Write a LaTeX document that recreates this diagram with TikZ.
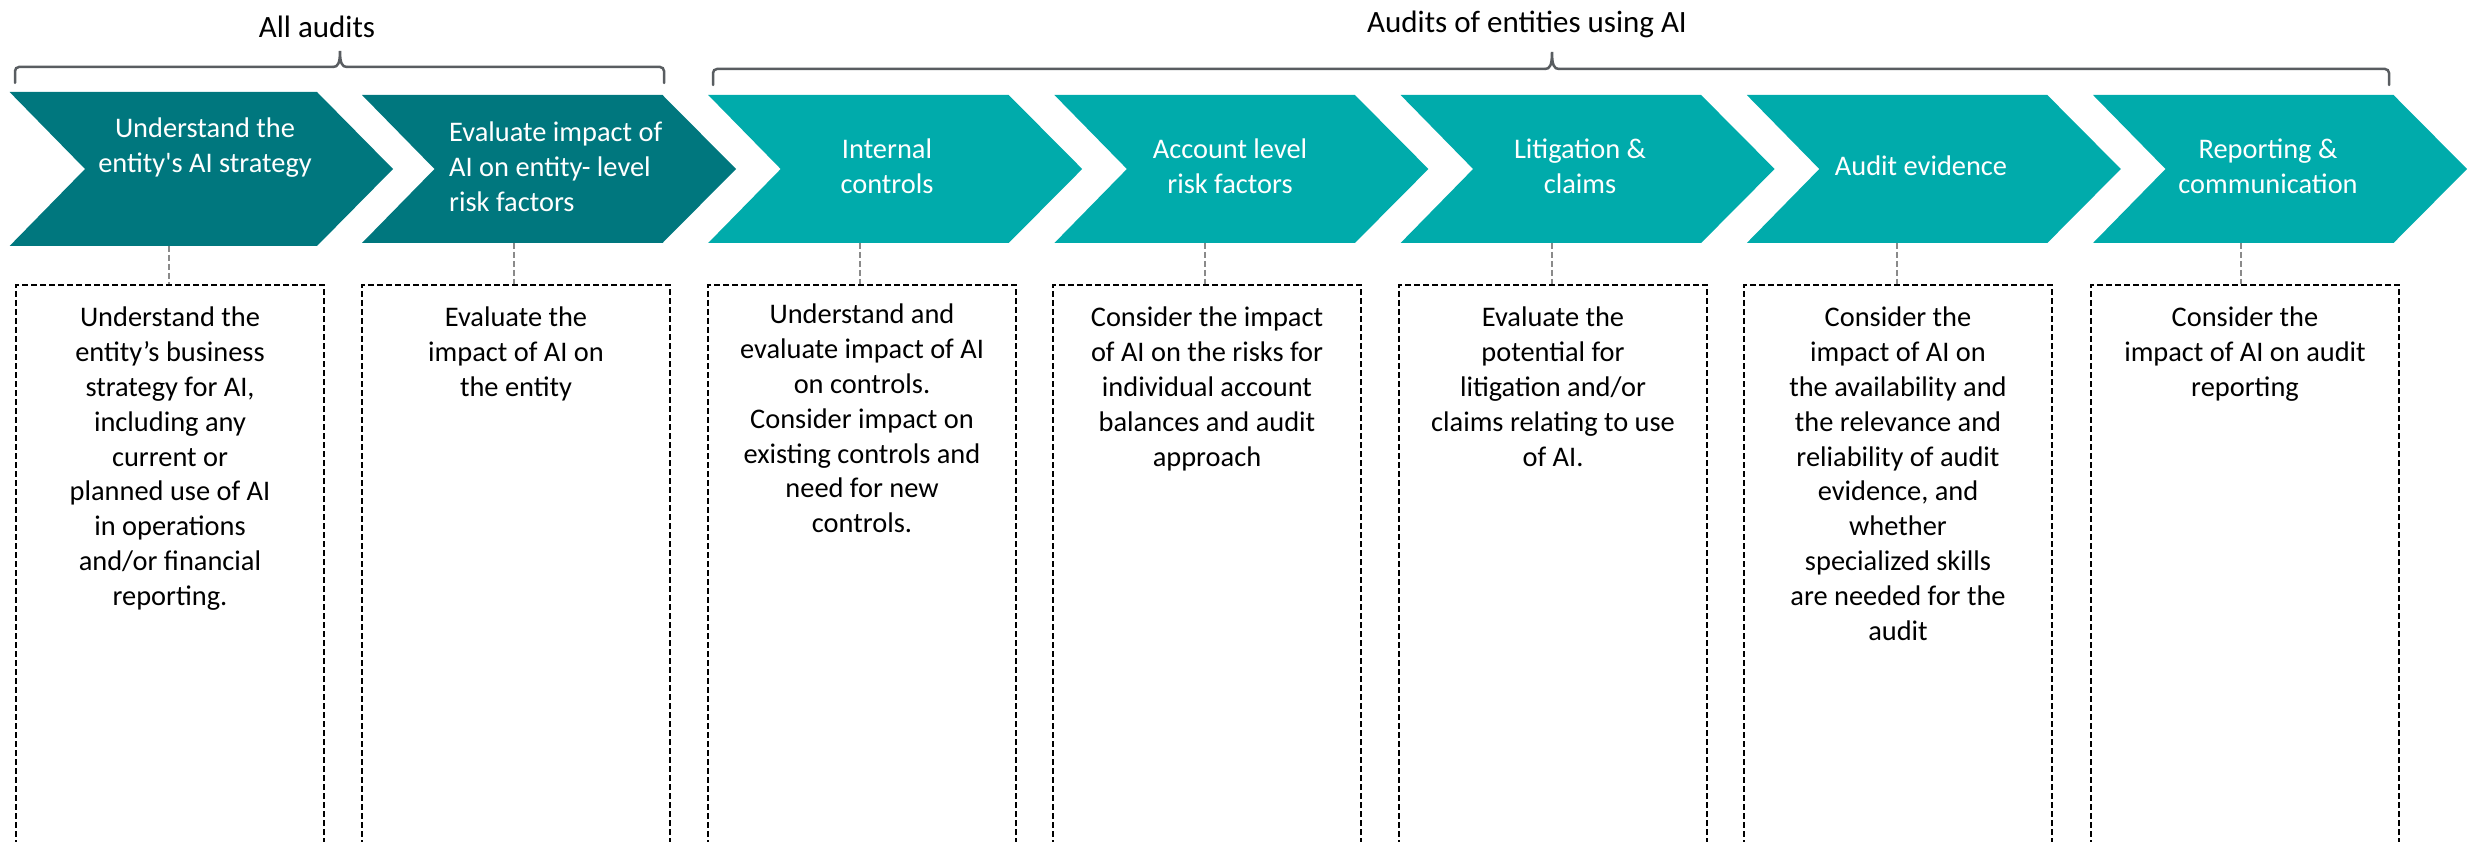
\documentclass[tikz,border=0pt]{standalone}
\usepackage{fontspec}
\setmainfont{Carlito}
\definecolor{tealdark}{HTML}{00777E}
\definecolor{teallight}{HTML}{00ABAB}
\definecolor{bracketgray}{HTML}{595D61}
\definecolor{linkgray}{HTML}{8A8A8A}
\begin{document}
\begin{tikzpicture}[x=1pt,y=-1pt,
  brk/.style={draw=bracketgray, line width=2.5pt, line cap=round},
  title/.style={font=\fontsize{31}{37}\selectfont, text=black, inner sep=0pt, anchor=base},
  steplabel/.style={font=\fontsize{28.4}{34.8}\selectfont, text=white, inner sep=0pt, align=center},
  boxframe/.style={draw=black, dash pattern=on 6pt off 3pt, line width=2pt,
    minimum width=308pt, minimum height=620pt, anchor=north, inner sep=0pt},
  boxtext/.style={font=\fontsize{28.4}{34.8}\selectfont, text=black, inner sep=0pt, align=center, anchor=north},
  link/.style={draw=linkgray, dash pattern=on 6pt off 3pt, line width=1.8pt}
]
\useasboundingbox (0,0) rectangle (2471,842);

% ---- group headings and brackets ----
\node[title] (t1) at (317,38) {All audits};
\node[title] (t2) at (1527,33) {Audits of entities using AI};

\draw[brk, rounded corners=4pt] (15,83) -- (15,67) -- (333,67);
\draw[brk] (333,67) .. controls (338,67) and (340,63) .. (340,51) .. controls (340,63) and (342,67) .. (347,67);
\draw[brk, rounded corners=4pt] (347,67) -- (664,67) -- (664,83);

\draw[brk, rounded corners=4pt] (713,85) -- (713,69) -- (1545,69);
\draw[brk] (1545,69) .. controls (1550,69) and (1552,65) .. (1552,52) .. controls (1552,65) and (1554,69) .. (1559,69);
\draw[brk, rounded corners=4pt] (1559,69) -- (2389,69) -- (2389,85);

% ---- process chevrons ----
\fill[tealdark] (9.6,92) -- (317,92) -- (393,169) -- (317,246) -- (9.6,246) -- (85,169) -- cycle;
\newcommand{\chevshape}[2]{%
  \fill[#2] (#1,95) -- ++(300.5,0) -- ++(73.5,74) -- ++(-73.5,74) -- ++(-300.5,0) -- ++(72.5,-74) -- cycle;}
\chevshape{362}{tealdark}
\chevshape{708.2}{teallight}
\chevshape{1054.4}{teallight}
\chevshape{1400.6}{teallight}
\chevshape{1746.8}{teallight}
\chevshape{2093}{teallight}

\node[steplabel, anchor=north] (s1) at (205,117.5) {Understand the\\entity\textquotesingle s AI strategy};
\node[steplabel, anchor=north west, align=left] (s2) at (449,121.5) {Evaluate impact of\\AI on entity- level\\risk factors};
\node[steplabel] (s3) at (887,166) {Internal\\controls};
\node[steplabel] (s4) at (1230,166) {Account level\\risk factors};
\node[steplabel] (s5) at (1580,166) {Litigation \&\\claims};
\node[steplabel] (s6) at (1921,166) {Audit evidence};
\node[steplabel] (s7) at (2268,166) {Reporting \&\\communication};

% bottom points of the chevrons
\coordinate (k1) at (169,246);
\coordinate (k2) at (514,243);
\coordinate (k3) at (860,243);
\coordinate (k4) at (1205,243);
\coordinate (k5) at (1552,243);
\coordinate (k6) at (1897,243);
\coordinate (k7) at (2241,243);

% ---- detail boxes (open at the bottom edge) ----
\begin{scope}
\clip (0,0) rectangle (2471,842);
\node[boxframe] (b1) at (170,284) {};
\node[boxframe] (b2) at (516,284) {};
\node[boxframe] (b3) at (862,284) {};
\node[boxframe] (b4) at (1207,284) {};
\node[boxframe] (b5) at (1553,284) {};
\node[boxframe] (b6) at (1898,284) {};
\node[boxframe] (b7) at (2245,284) {};
\end{scope}

\node[boxtext] (d1) at ([yshift=-23pt]b1.north) {Understand the\\entity’s business\\strategy for AI,\\including any\\current or\\planned use of AI\\in operations\\and/or financial\\reporting.};
\node[boxtext] (d2) at ([yshift=-23pt]b2.north) {Evaluate the\\impact of AI on\\the entity};
\node[boxtext] (d3) at ([yshift=-20pt]b3.north) {Understand and\\evaluate impact of AI\\on controls.\\Consider impact on\\existing controls and\\need for new\\controls.};
\node[boxtext] (d4) at ([yshift=-23pt]b4.north) {Consider the impact\\of AI on the risks for\\individual account\\balances and audit\\approach};
\node[boxtext] (d5) at ([yshift=-23pt]b5.north) {Evaluate the\\potential for\\litigation and/or\\claims relating to use\\of AI.};
\node[boxtext] (d6) at ([yshift=-23pt]b6.north) {Consider the\\impact of AI on\\the availability and\\the relevance and\\reliability of audit\\evidence, and\\whether\\specialized skills\\are needed for the\\audit};
\node[boxtext] (d7) at ([yshift=-23pt]b7.north) {Consider the\\impact of AI on audit\\reporting};

% ---- links from chevrons to boxes ----
\foreach \i in {1,...,7} {
  \draw[link] (k\i) -- (k\i |- b\i.north);
}
\end{tikzpicture}
\end{document}
